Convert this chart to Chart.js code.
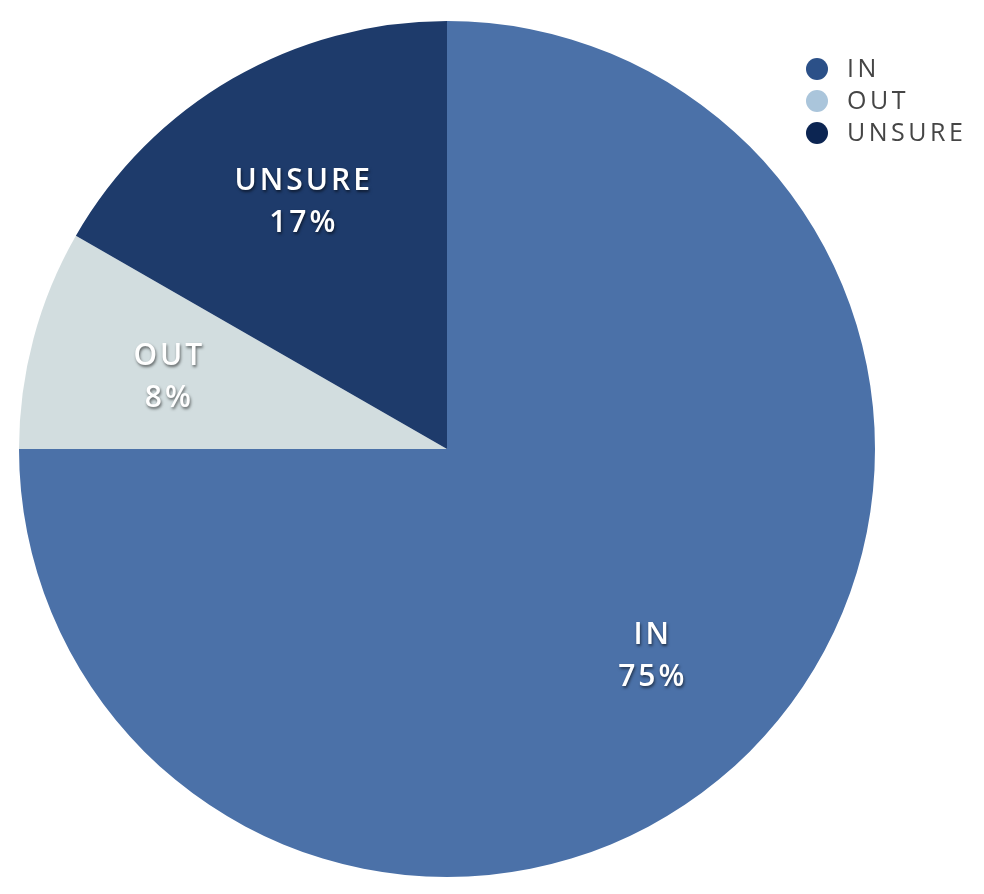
<!DOCTYPE html>
<html>
<head>
<meta charset="utf-8">
<script src="https://cdn.jsdelivr.net/npm/chart.js@4.4.0/dist/chart.umd.min.js"></script>
<style>
  html, body { margin: 0; padding: 0; background: #fff; }
  #wrap { width: 984px; height: 894px; }
</style>
</head>
<body>
<div id="wrap"><canvas id="pie"></canvas></div>
<script>
const labels = ['IN', 'OUT', 'UNSURE'];
const values = [75, 8.3, 16.7];
const sliceColors = ['#4b71a8', '#d2dddf', '#1e3b6b'];
const legendColors = ['#2b5088', '#aac5db', '#0c2552'];

const FONT = '"Open Sans", Lato, sans-serif';

// white labels with soft shadow, inside each slice
const sliceLabels = {
  id: 'sliceLabels',
  afterDatasetsDraw(chart) {
    const ctx = chart.ctx;
    const meta = chart.getDatasetMeta(0);
    const total = values.reduce((a, b) => a + b, 0);
    meta.data.forEach((arc, i) => {
      const p = arc.getProps(['x', 'y', 'startAngle', 'endAngle', 'outerRadius']);
      const mid = (p.startAngle + p.endAngle) / 2;
      const r = p.outerRadius * 0.675;
      const x = p.x + Math.cos(mid) * r;
      const y = p.y + Math.sin(mid) * r + 3;
      ctx.save();
      ctx.font = '600 30px ' + FONT;
      ctx.letterSpacing = '3px';
      ctx.fillStyle = '#fff';
      ctx.textAlign = 'center';
      ctx.textBaseline = 'middle';
      ctx.shadowColor = 'rgba(0,0,0,0.55)';
      ctx.shadowBlur = 3;
      ctx.shadowOffsetX = 1;
      ctx.shadowOffsetY = 2;
      ctx.fillText(labels[i], x + 1.5, y - 21);
      ctx.fillText(Math.round(values[i] / total * 100) + '%', x + 1.5, y + 21);
      ctx.restore();
    });
  }
};

// legend in the top right corner, outside the pie's layout box
const cornerLegend = {
  id: 'cornerLegend',
  afterDraw(chart) {
    const ctx = chart.ctx;
    ctx.save();
    ctx.font = '500 25px ' + FONT;
    ctx.letterSpacing = '3.5px';
    ctx.textBaseline = 'middle';
    labels.forEach((l, i) => {
      const y = 69 + i * 32;
      ctx.beginPath();
      ctx.arc(817, y, 11, 0, Math.PI * 2);
      ctx.fillStyle = legendColors[i];
      ctx.fill();
      ctx.fillStyle = '#454545';
      ctx.fillText(l, 847, y + 1);
    });
    ctx.restore();
  }
};

new Chart(document.getElementById('pie').getContext('2d'), {
  type: 'pie',
  data: {
    labels: labels,
    datasets: [{
      data: values,
      backgroundColor: sliceColors,
      borderWidth: 0
    }]
  },
  options: {
    responsive: true,
    maintainAspectRatio: false,
    animation: false,
    layout: { padding: { top: 21, bottom: 17, left: 19, right: 109 } },
    plugins: {
      legend: { display: false },
      tooltip: { enabled: false }
    }
  },
  plugins: [sliceLabels, cornerLegend]
});
</script>
</body>
</html>
